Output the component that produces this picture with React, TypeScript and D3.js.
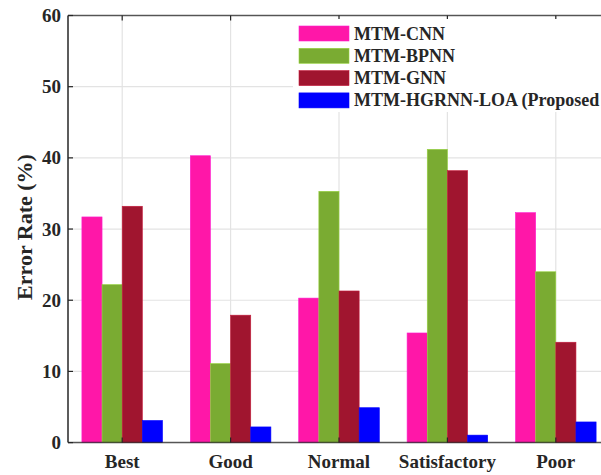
import React from "react";
import * as d3 from "d3";

const categories = ["Best", "Good", "Normal", "Satisfactory", "Poor"];
const seriesNames = ["MTM-CNN", "MTM-BPNN", "MTM-GNN", "MTM-HGRNN-LOA (Proposed"];
const cnn = [31.7, 40.3, 20.3, 15.4, 32.3];
const bpnn = [22.2, 11.1, 35.3, 41.2, 24.0];
const gnn = [33.2, 17.9, 21.3, 38.2, 14.1];
const proposed = [3.1, 2.2, 4.9, 1.05, 2.9];
const yTicks = [0, 10, 20, 30, 40, 50, 60];
const colors = ["#FF17A8", "#7AAB32", "#A0152F", "#0000FF"];

const W = 601;
const H = 475;
const left = 68;
const right = 610;
const top = 15.5;
const bottom = 442.6;

export default function App() {
  const series = [cnn, bpnn, gnn, proposed];
  const x = d3.scaleBand<string>().domain(categories).range([left, right]).padding(0);
  const y = d3.scaleLinear().domain([0, 60]).range([bottom, top]);
  const inner = d3
    .scaleBand<number>()
    .domain(d3.range(series.length))
    .range([-40.3, 40.3])
    .padding(0);
  const font = "'Liberation Serif', 'Times New Roman', serif";
  const axisColor = "#262626";
  return (
    <svg width={W} height={H} style={{ position: "absolute", left: 0, top: 0, background: "#fff" }}>
      <rect x={0} y={0} width={W} height={H} fill="#fff" />
      {/* grid */}
      {yTicks.map((t) => (
        <line key={"gy" + t} x1={left} x2={right} y1={y(t)} y2={y(t)} stroke="#e3e3e3" strokeWidth={1.2} />
      ))}
      {categories.map((c) => {
        const cx = (x(c) as number) + x.bandwidth() / 2;
        return <line key={"gx" + c} x1={cx} x2={cx} y1={top} y2={bottom} stroke="#e3e3e3" strokeWidth={1.2} />;
      })}
      {/* bars */}
      {series.map((vals, si) =>
        vals.map((v, ci) => {
          const cx = (x(categories[ci]) as number) + x.bandwidth() / 2;
          const bx = cx + (inner(si) as number);
          return (
            <rect
              key={si + "-" + ci}
              x={bx}
              y={y(v)}
              width={inner.bandwidth()}
              height={bottom - y(v)}
              fill={colors[si]}
              stroke={d3.color(colors[si])!.brighter(0.6).toString()}
              strokeWidth={0.6}
            />
          );
        })
      )}
      {/* axes */}
      <line x1={left} x2={right} y1={top} y2={top} stroke={axisColor} strokeOpacity={0.75} strokeWidth={1.5} />
      <line x1={left} x2={right} y1={bottom} y2={bottom} stroke={axisColor} strokeOpacity={0.75} strokeWidth={1.5} />
      <line x1={left} x2={left} y1={top} y2={bottom} stroke={axisColor} strokeWidth={1.5} />
      {yTicks.map((t) => (
        <g key={"ty" + t}>
          <line x1={left} x2={left + 5} y1={y(t)} y2={y(t)} stroke={axisColor} strokeWidth={1.2} />
          <text
            x={61}
            y={y(t)}
            textAnchor="end"
            dominantBaseline="central"
            fontFamily={font}
            fontWeight="bold"
            fontSize={19}
            fill="#262626"
          >
            {t}
          </text>
        </g>
      ))}
      {categories.map((c) => {
        const cx = (x(c) as number) + x.bandwidth() / 2;
        return (
          <g key={"tx" + c}>
            <line x1={cx} x2={cx} y1={bottom} y2={bottom - 5} stroke={axisColor} strokeWidth={1.2} />
            <line x1={cx} x2={cx} y1={top} y2={top + 5} stroke={axisColor} strokeWidth={1.2} />
            <text
              x={cx}
              y={468}
              textAnchor="middle"
              fontFamily={font}
              fontWeight="bold"
              fontSize={19}
              fill="#262626"
            >
              {c}
            </text>
          </g>
        );
      })}
      <text
        transform={`translate(32, 227) rotate(-90)`}
        textAnchor="middle"
        fontFamily={font}
        fontWeight="bold"
        fontSize={22}
        fill="#262626"
      >
        Error Rate (%)
      </text>
      {/* legend */}
      <rect x={293} y={19} width={330} height={93} fill="#fff" />
      {seriesNames.map((n, i) => {
        const cy = 33.5 + i * 22.3;
        return (
          <g key={"lg" + n}>
            <rect
              x={299}
              y={cy - 7.5}
              width={50}
              height={15}
              fill={colors[i]}
              stroke={d3.color(colors[i])!.brighter(0.6).toString()}
              strokeWidth={0.6}
            />
            <text
              x={354}
              y={cy}
              dominantBaseline="central"
              fontFamily={font}
              fontWeight="bold"
              fontSize={18}
              fill="#262626"
            >
              {n}
            </text>
          </g>
        );
      })}
    </svg>
  );
}
